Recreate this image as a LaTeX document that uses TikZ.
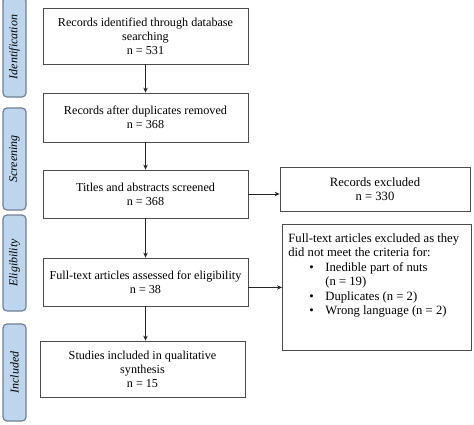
\documentclass[tikz,border=0pt]{standalone}
\usepackage{fontspec}
\setmainfont{Liberation Serif}
\usetikzlibrary{positioning}
\usetikzlibrary{arrows.meta}
\definecolor{phasefill}{RGB}{189,214,238}
\definecolor{phasedraw}{RGB}{112,128,148}
\newcommand{\critem}[1]{\hspace*{21bp}\makebox[16bp][l]{\textbullet}#1}
\newcommand{\critcont}[1]{\hspace*{37bp}#1}
\tikzset{
  stagebox/.style={draw=black!70, line width=0.8bp, fill=white, align=center,
    font=\fontsize{12.2}{14}\selectfont, minimum width=205bp, inner sep=2bp},
  sidebox/.style={draw=black!70, line width=0.8bp, fill=white,
    font=\fontsize{12.7}{14.5}\selectfont, inner sep=2bp},
  phasebox/.style={draw=phasedraw, fill=phasefill, rounded corners=4bp, line width=1.2bp,
    minimum height=23bp, rotate=90, font=\fontsize{12}{14}\selectfont\itshape},
  flowarrow/.style={-{Stealth[length=5bp,width=4.5bp]}, line width=0.8bp, black!85}
}

\begin{document}
\begin{tikzpicture}[x=1bp,y=-1bp]
\useasboundingbox (0,0) rectangle (474,424);

% phases
\node[phasebox, minimum width=100bp] (phaseIdent) at (14.5,47) {Identification};
\node[phasebox, minimum width=102bp] (phaseScreen) at (14.5,159) {Screening};
\node[phasebox, minimum width=96bp] (phaseElig) at (14.5,263) {Eligibility};
\node[phasebox, minimum width=97bp] (phaseIncl) at (14.5,372.5) {Included};

% main column
\node[stagebox, minimum height=56bp] (identified) at (145.5,36) {Records identified through database\\searching\\n = 531};
\node[stagebox, minimum height=49bp] (deduped) at (145.5,117.5) {Records after duplicates removed\\n = 368};
\node[stagebox, minimum height=48bp] (screened) at (145.5,194) {Titles and abstracts screened\\n = 368};
\node[stagebox, minimum height=48bp] (assessed) at (145.5,282) {Full-text articles assessed for eligibility\\n = 38};
\node[stagebox, minimum height=56bp] (included) at (142.5,369) {Studies included in qualitative\\synthesis\\n = 15};

% exclusions
\node[sidebox, align=center, minimum width=190bp, minimum height=44bp] (excluded) at (375,189) {Records excluded\\n = 330};
\node[sidebox, anchor=north west, inner xsep=6bp, inner ysep=9bp] (ftexcluded) at (282,224) {%
\begin{minipage}[t][108bp][t]{177bp}\baselineskip=14.5bp
Full-text articles excluded as they\\
did not meet the criteria for:\\
\critem{Inedible part of nuts}\\
\critcont{(n = 19)}\\
\critem{Duplicates (n = 2)}\\
\critem{Wrong language (n = 2)}
\end{minipage}};

\draw[flowarrow] (identified) -- (deduped);
\draw[flowarrow] (deduped) -- (screened);
\draw[flowarrow] (screened) -- (assessed);
\draw[flowarrow] (assessed) -- (assessed |- included.north);
\draw[flowarrow] (screened.east) -- (screened.east -| excluded.west);
\draw[flowarrow] (ftexcluded.west -| assessed.east) -- (ftexcluded.west);

\end{tikzpicture}
\end{document}
